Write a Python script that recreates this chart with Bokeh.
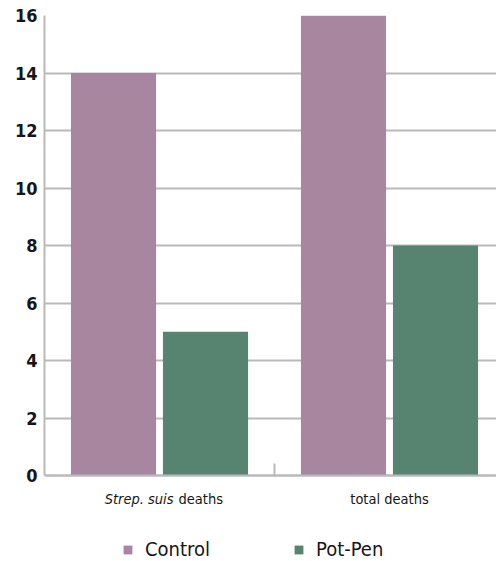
from bokeh.plotting import figure
from bokeh.models import (Range1d, FixedTicker, Label, Legend, LegendItem, ColumnDataSource)
from bokeh.transform import dodge
from bokeh.embed import file_html
from bokeh.resources import INLINE

# ---- data ----
categories = ["Strep. suis deaths", "total deaths"]
italic_prefix = ["Strep. suis", ""]
control = [14, 16]
potpen = [5, 8]
series_names = ["Control", "Pot-Pen"]
y_ticks = [0, 2, 4, 6, 8, 10, 12, 14, 16]

# ---- style ----
PURPLE = "#A886A0"
GREEN = "#568470"
GRID = "#b9b9b9"
FONT = "DejaVu Sans Condensed"
TXT = "#161616"

xs = [i + 0.5 for i in range(len(categories))]
src = ColumnDataSource(dict(x=xs, control=control, potpen=potpen))

# frame spans 44..496 px horizontally (230 px per category) and 15..561 px
# vertically (28.75 px per unit, baseline at 475 px)
p = figure(width=496, height=561, output_backend="svg", toolbar_location=None,
           x_range=Range1d(0, 452 / 230), y_range=Range1d(-86 / 28.75, 16),
           min_border_left=44, min_border_top=15, min_border_right=0,
           min_border_bottom=0)
p.outline_line_color = None
p.background_fill_color = "white"

r1 = p.vbar(x=dodge("x", -0.2, range=p.x_range), top="control", width=0.37,
            source=src, fill_color=PURPLE, line_color=None)
r2 = p.vbar(x=dodge("x", 0.2, range=p.x_range), top="potpen", width=0.37,
            source=src, fill_color=GREEN, line_color=None)

# grid
p.xgrid.visible = False
p.ygrid.ticker = FixedTicker(ticks=y_ticks)
p.ygrid.grid_line_color = GRID
p.ygrid.grid_line_width = 2
p.ygrid.level = "underlay"

# y axis
p.yaxis.ticker = FixedTicker(ticks=y_ticks)
p.yaxis.bounds = (y_ticks[0], y_ticks[-1])
p.yaxis.axis_line_color = GRID
p.yaxis.axis_line_width = 2
p.yaxis.major_tick_line_color = None
p.yaxis.minor_tick_line_color = None
p.yaxis.major_tick_out = 0
p.yaxis.major_tick_in = 0
p.yaxis.major_label_standoff = 7
p.yaxis.major_label_text_font = FONT
p.yaxis.major_label_text_font_style = "bold"
p.yaxis.major_label_text_font_size = "18px"
p.yaxis.major_label_text_color = TXT

# x axis drawn at y = 0: only a separator tick between the categories
p.xaxis.fixed_location = 0
p.xaxis.ticker = FixedTicker(ticks=[1.0])
p.xaxis.major_label_overrides = {1: ""}
p.xaxis.major_label_text_font_size = "0px"
p.xaxis.major_label_standoff = 0
p.xaxis.axis_line_color = GRID
p.xaxis.axis_line_width = 2
p.xaxis.major_tick_line_color = GRID
p.xaxis.major_tick_line_width = 2
p.xaxis.major_tick_in = 12
p.xaxis.major_tick_out = 0
p.xaxis.minor_tick_line_color = None

# category labels (partly italic)
for x, cat, pre in zip(xs, categories, italic_prefix):
    rest = cat[len(pre):].strip()
    common = dict(y=-23 / 28.75, text_font=FONT, text_font_size="14.5px",
                  text_color=TXT, text_baseline="alphabetic")
    if pre:
        p.add_layout(Label(x=x, x_offset=14, text=pre, text_align="right",
                           text_font_style="italic", **common))
        p.add_layout(Label(x=x, x_offset=19, text=rest, text_align="left", **common))
    else:
        p.add_layout(Label(x=x, text=rest, text_align="center", **common))

legend = Legend(items=[LegendItem(label=series_names[0], renderers=[r1]),
                       LegendItem(label=series_names[1], renderers=[r2])],
                orientation="horizontal", location=(78, 0),
                glyph_width=11, glyph_height=11, label_standoff=12, spacing=83,
                padding=0, margin=0, border_line_color=None,
                background_fill_alpha=0, label_text_font=FONT,
                label_text_font_size="20px", label_text_color=TXT)
p.add_layout(legend)

open("out.html", "w").write(file_html(p, INLINE))
